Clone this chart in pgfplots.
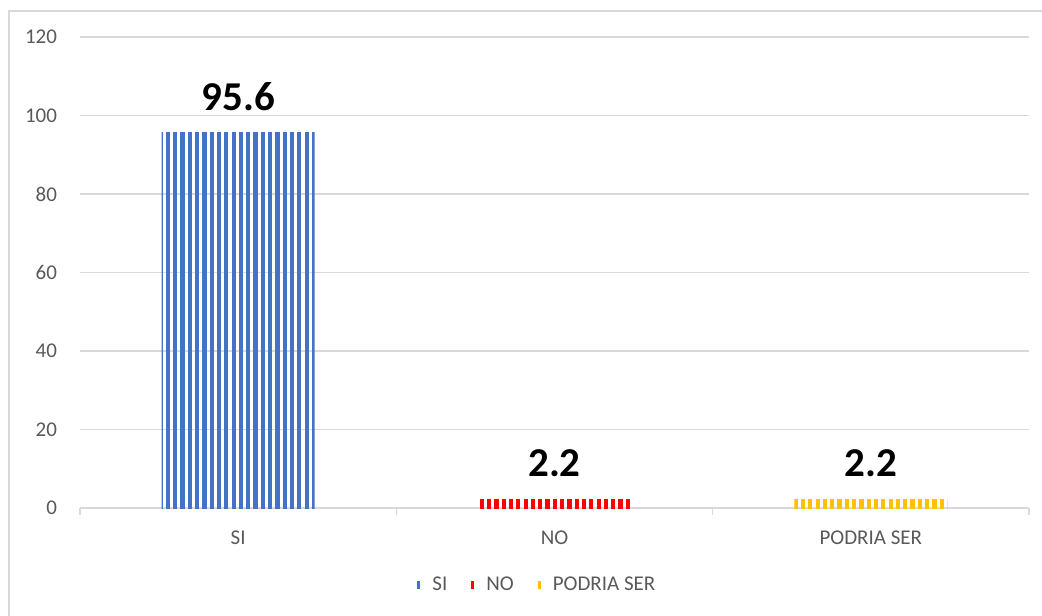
\documentclass[border=0pt]{standalone}
\usepackage{fontspec}
\setmainfont{Carlito}
\usepackage{pgfplots}
\pgfplotsset{compat=1.18}
\usetikzlibrary{patterns.meta}
\definecolor{barblue}{RGB}{68,114,196}
\definecolor{barred}{RGB}{255,0,0}
\definecolor{baryel}{RGB}{255,192,0}
\definecolor{gridc}{RGB}{217,217,217}
\definecolor{txtc}{RGB}{89,89,89}
\begin{document}
\begin{tikzpicture}
\path[use as bounding box] (-40pt,-53.5pt) rectangle (481pt,254pt);
\draw[gridc, line width=0.8pt] (-35.5pt,-60pt) -- (-35.5pt,248.5pt) -- (490pt,248.5pt);
\begin{axis}[
  at={(0pt,0pt)}, anchor=south west,
  scale only axis,
  width=474.5pt, height=235.5pt,
  xmin=-0.5, xmax=2.5, ymin=0, ymax=120,
  ytick={0,20,...,120},
  xtick={0,1,2},
  xticklabels={SI,NO,PODRIA SER},
  minor xtick={-0.5,0.5,1.5,2.5},
  major tick length=0pt,
  minor tick length=3.5pt,
  tick align=outside,
  xtick pos=bottom,
  ytick pos=left,
  ymajorgrids,
  grid style={gridc, line width=0.6pt},
  minor x tick style={gridc, line width=0.8pt},
  separate axis lines,
  axis x line*=bottom,
  y axis line style={draw=none},
  x axis line style={gridc, line width=1pt, -},
  ticklabel style={font=\fontsize{10.5}{12}\selectfont, text=txtc},
  xticklabel style={yshift=-8pt},
  yticklabel style={xshift=-8pt},
  /pgf/number format/assume math mode=true,
  nodes near coords,
  nodes near coords style={font=\bfseries\fontsize{20.5}{24}\selectfont, text=black, anchor=south, inner sep=0pt, yshift=11pt},
  legend columns=-1,
  legend style={at={(0.483,-38.5pt)}, anchor=center, draw=none, fill=none,
    font=\fontsize{10.5}{12}\selectfont, text=txtc,
    /tikz/every odd column/.append style={column sep=4pt},
    /tikz/every even column/.append style={column sep=10pt}},
]
\addplot[ybar, bar width=76.5pt, bar shift=0pt, draw=none,
  pattern={Lines[angle=90, distance=3.65pt, line width=2.1pt]}, pattern color=barblue,
  legend image code/.code={\fill[barblue] (0pt,-2pt) rectangle (1.5pt,2pt);}]
  coordinates {(0,95.6)};
\addlegendentry{SI}
\addplot[ybar, bar width=76.5pt, bar shift=0pt, draw=none,
  pattern={Lines[angle=90, distance=3.65pt, line width=2.1pt]}, pattern color=barred,
  legend image code/.code={\fill[barred] (0pt,-2pt) rectangle (1.5pt,2pt);}]
  coordinates {(1,2.2)};
\addlegendentry{NO}
\addplot[ybar, bar width=76.5pt, bar shift=0pt, draw=none,
  pattern={Lines[angle=90, distance=3.65pt, line width=2.1pt]}, pattern color=baryel,
  legend image code/.code={\fill[baryel] (0pt,-2pt) rectangle (1.5pt,2pt);}]
  coordinates {(2,2.2)};
\addlegendentry{PODRIA SER}
\end{axis}
\end{tikzpicture}
\end{document}
